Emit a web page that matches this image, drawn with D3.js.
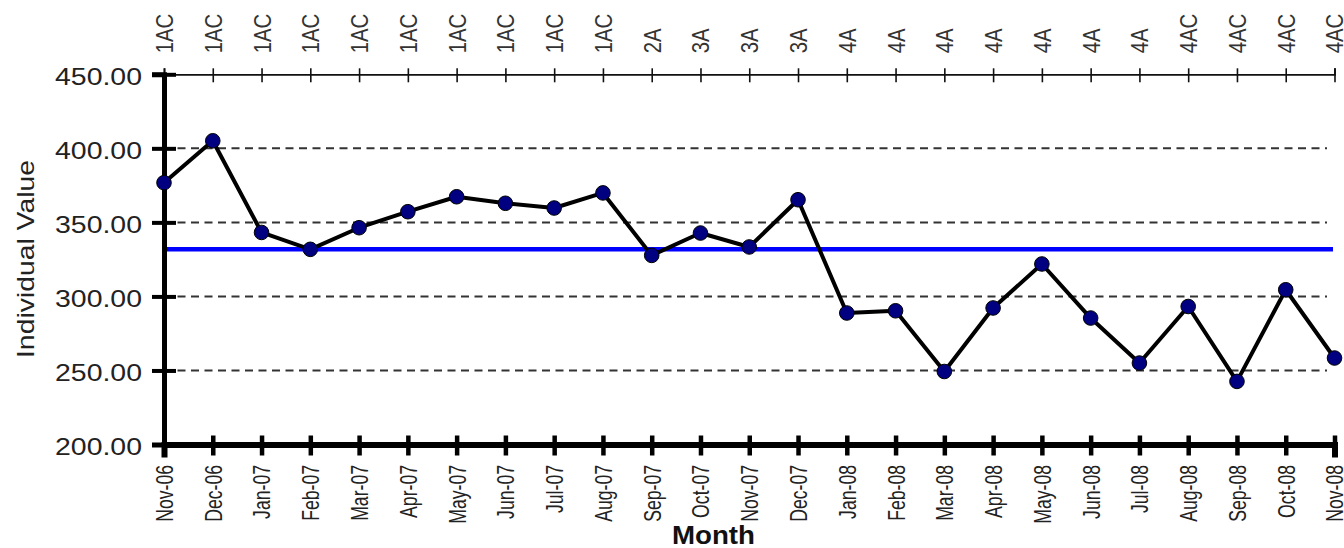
<!DOCTYPE html>
<html><head><meta charset="utf-8">
<script src="https://cdn.jsdelivr.net/npm/d3@7"></script>
<style>body{margin:0;background:#fff} svg{display:block}</style>
</head><body><svg id="c" width="1344" height="548"></svg>
<script>
const months = ["Nov-06","Dec-06","Jan-07","Feb-07","Mar-07","Apr-07","May-07","Jun-07","Jul-07","Aug-07","Sep-07","Oct-07","Nov-07","Dec-07","Jan-08","Feb-08","Mar-08","Apr-08","May-08","Jun-08","Jul-08","Aug-08","Sep-08","Oct-08","Nov-08"];
const values = [376.8,405.1,343.2,331.8,346.4,357.2,367.3,362.9,359.7,369.9,327.7,342.8,333.4,365.3,288.8,290.3,249.3,292.2,321.9,285.4,255.0,293.2,242.6,304.5,258.4];
const phases = ["1AC","1AC","1AC","1AC","1AC","1AC","1AC","1AC","1AC","1AC","2A","3A","3A","3A","4A","4A","4A","4A","4A","4A","4A","4AC","4AC","4AC","4AC"];
const centerLine = 331.8;
const yTicks = [200,250,300,350,400,450];
const gridValues = [250,300,350,400];
const yTitle = "Individual Value";
const xTitle = "Month";

const svg = d3.select("#c");
const FONT = "'Liberation Sans', Arial, sans-serif";
const x = d3.scalePoint().domain(months).range([164, 1334.5]);
const y = d3.scaleLinear().domain([200, 450]).range([444.5, 74.3]);

// grid
svg.append("g").selectAll("line").data(gridValues).join("line")
  .attr("x1", 164).attr("x2", 1327)
  .attr("y1", d => y(d)).attr("y2", d => y(d))
  .attr("stroke", "#333").attr("stroke-width", 2).attr("stroke-dasharray", "8,5.5");

// center line
svg.append("line")
  .attr("x1", 164).attr("x2", 1333)
  .attr("y1", y(centerLine)).attr("y2", y(centerLine))
  .attr("stroke", "#0000ff").attr("stroke-width", 4.5);

// top axis
const topAx = svg.append("g").attr("transform", `translate(0,${y(450)})`)
  .call(d3.axisTop(x).tickSizeOuter(0).tickSize(6).tickFormat((d, i) => phases[i]));
topAx.select(".domain").attr("stroke", "#111").attr("stroke-width", 1.8);
topAx.selectAll(".tick line").attr("y1", 8).attr("y2", -6).attr("stroke", "#111").attr("stroke-width", 1.6);
topAx.selectAll(".tick text")
  .attr("x", 0).attr("y", 0).attr("dy", "0.35em")
  .attr("transform", "translate(0,-21) rotate(-90) scale(0.97,1.15)")
  .style("text-anchor", "start")
  .style("font-family", FONT).style("font-size", "21px").attr("fill", "#333");

// left axis
const leftAx = svg.append("g").attr("transform", "translate(164,0)")
  .call(d3.axisLeft(y).tickValues(yTicks).tickSizeOuter(0).tickSize(12).tickFormat(d3.format(".2f")));
leftAx.select(".domain").attr("stroke", "#000").attr("stroke-width", 5);
leftAx.selectAll(".tick line").attr("x1", -12).attr("x2", 12).attr("stroke", "#000").attr("stroke-width", 4);
leftAx.selectAll(".tick text")
  .attr("x", -22).attr("y", 1.5).attr("dy", "0.36em")
  .attr("textLength", 87).attr("lengthAdjust", "spacingAndGlyphs")
  .style("font-family", FONT).style("font-size", "23.5px").attr("fill", "#222");

// bottom axis
const botAx = svg.append("g").attr("transform", `translate(0,${y(200)})`)
  .call(d3.axisBottom(x).tickSizeOuter(0).tickSize(10));
botAx.select(".domain").attr("stroke", "#000").attr("stroke-width", 6).attr("stroke-linecap", "square");
botAx.selectAll(".tick line").attr("y1", -9).attr("y2", 11).attr("stroke", "#000").attr("stroke-width", 4.5);
botAx.selectAll(".tick text")
  .attr("x", 0).attr("y", 0).attr("dy", "0.35em")
  .attr("transform", "translate(0,20.5) rotate(-90) scale(0.84,1.15)")
  .style("text-anchor", "end")
  .style("font-family", FONT).style("font-size", "21px").attr("fill", "#222");

// data line
const line = d3.line().x((d, i) => x(months[i])).y(d => y(d));
svg.append("path").datum(values)
  .attr("d", line).attr("fill", "none")
  .attr("stroke", "#000").attr("stroke-width", 4).attr("stroke-linejoin", "round");

svg.append("g").selectAll("circle").data(values).join("circle")
  .attr("cx", (d, i) => x(months[i])).attr("cy", d => y(d)).attr("r", 7.3)
  .attr("fill", "#000080").attr("stroke", "#000").attr("stroke-width", 1);

// titles
svg.append("text")
  .attr("transform", "translate(25,259) rotate(-90)")
  .attr("dy", "0.35em").attr("text-anchor", "middle")
  .attr("textLength", 198).attr("lengthAdjust", "spacingAndGlyphs")
  .style("font-family", FONT).style("font-size", "24.5px").attr("fill", "#222")
  .text(yTitle);

svg.append("text")
  .attr("x", 713.5).attr("y", 544).attr("text-anchor", "middle")
  .attr("textLength", 83).attr("lengthAdjust", "spacingAndGlyphs")
  .style("font-family", FONT).style("font-size", "25px").style("font-weight", "bold").attr("fill", "#111")
  .text(xTitle);
</script>
</body></html>
